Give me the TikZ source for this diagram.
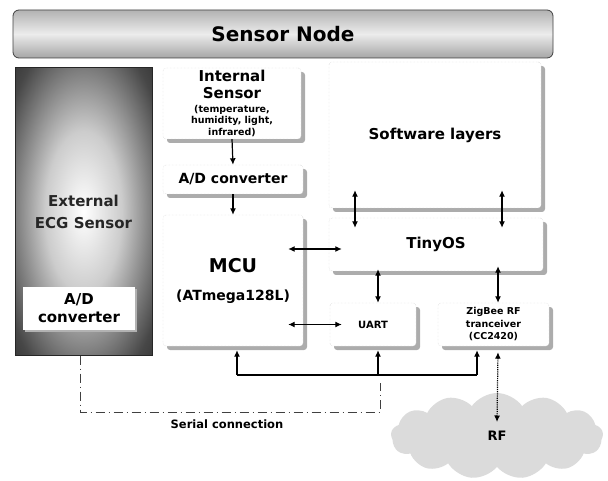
\documentclass[tikz,border=0pt]{standalone}
\usepackage{fontspec}
\setmainfont{DejaVu Sans}
\usetikzlibrary{arrows.meta,positioning,shapes.symbols,shadows}
\pgfdeclareradialshading{ecgglow}{\pgfpoint{0bp}{0bp}}{color(0bp)=(white); color(14bp)=(gray!40); color(32bp)=(black!72); color(44bp)=(black!88); color(50bp)=(black!92)}
\newcommand{\smalltxt}{\fontsize{9.5}{11}\selectfont}
\tikzset{
  blk/.style={fill=white, draw=gray!45, densely dotted, rounded corners=3pt, align=center, inner sep=1pt,
    drop shadow={shadow xshift=4pt, shadow yshift=-4pt, fill=gray!65, opacity=1}},
  lnk/.style={line width=1.2pt, -{Latex[length=6.5pt,width=6pt]}},
  dlnk/.style={line width=1.2pt, {Latex[length=6.5pt,width=6pt]}-{Latex[length=6.5pt,width=6pt]}},
  serial/.style={gray!50!black, line width=0.8pt, dash pattern=on 9pt off 4pt on 1pt off 4pt},
}

\begin{document}
\begin{tikzpicture}[x=1pt,y=-1pt]
  \useasboundingbox (0,0) rectangle (608,481);
  % header bar
  \node[rounded corners=6pt,draw=gray!50!black,line width=0.8pt,top color=gray!60,bottom color=gray!70,middle color=gray!15,minimum width=540pt,minimum height=48pt,font=\bfseries\fontsize{20}{22}\selectfont] (title) at (283,34) {Sensor Node};
  % external sensor
  \node[draw=black!85,line width=1pt,shading=ecgglow,minimum width=137pt,minimum height=287pt,align=center,text=black!85,font=\bfseries\fontsize{15}{22}\selectfont] (ecg) at (83.5,211.5) {External\\ECG Sensor};
  \node[fill=white,minimum width=112pt,minimum height=43pt,align=center,inner sep=1pt,font=\bfseries\fontsize{15}{18}\selectfont,drop shadow={shadow xshift=2pt,shadow yshift=-2pt,fill=gray!60,opacity=1}] (ecgad) at (79,308.5) {A/D\\converter};
  % hardware column
  \node[blk,minimum width=138pt,minimum height=71pt,font=\bfseries\fontsize{15}{17}\selectfont] (insens) at (232,103.5) {Internal\\Sensor\\[-3pt]\smalltxt (temperature,\\[-5.5pt]\smalltxt humidity, light,\\[-5pt]\smalltxt infrared)};
  \node[blk,minimum width=140pt,minimum height=29pt,font=\bfseries\fontsize{14}{16}\selectfont] (adc) at (233,179.5) {A/D converter};
  \node[blk,minimum width=140pt,minimum height=131pt,font=\bfseries\fontsize{19}{28}\selectfont] (mcu) at (233,280.5) {MCU\\\fontsize{14}{16}\selectfont(ATmega128L)};
  % software column
  \node[blk,minimum width=212pt,minimum height=146pt,font=\bfseries\fontsize{15}{17}\selectfont] (soft) at (435,135) {Software layers};
  \node[blk,minimum width=214pt,minimum height=53pt,font=\bfseries\fontsize{15}{17}\selectfont] (tinyos) at (436,244.5) {TinyOS};
  \node[blk,minimum width=86pt,minimum height=43pt,font=\bfseries\fontsize{10}{12}\selectfont] (uart) at (373,324.5) {UART};
  \node[blk,minimum width=111pt,minimum height=43pt,font=\bfseries\fontsize{9.5}{12.5}\selectfont] (zigbee) at (493.5,324.5) {ZigBee RF\\tranceiver\\(CC2420)};
  % radio
  \node[cloud,cloud puffs=13,cloud puff arc=110,aspect=2.4,fill=gray!28,minimum width=212pt,minimum height=86pt,inner sep=0pt,font=\bfseries\fontsize{13}{15}\selectfont] (rf) at (497,436) {RF};
  \node[font=\bfseries\fontsize{11.5}{13}\selectfont] (serlabel) at (227,424) {Serial connection};

  \draw[lnk] (insens.south) -- (adc.north);
  \draw[lnk] (adc.south) -- (mcu.north);
  \draw[dlnk] ([xshift=-15pt,yshift=-4.5pt]mcu.east |- tinyos.west) -- ([xshift=13pt,yshift=-4.5pt]tinyos.west);
  \draw[dlnk] ([xshift=-15pt]mcu.east |- uart.west) -- ([xshift=12pt]uart.west);
  \draw[dlnk] ([xshift=-80pt,yshift=18pt]soft.south) -- ([xshift=-81pt,yshift=-10pt]tinyos.north);
  \draw[dlnk] ([xshift=67pt,yshift=18pt]soft.south) -- ([xshift=66pt,yshift=-10pt]tinyos.north);
  \draw[dlnk] ([xshift=5pt,yshift=2pt]uart.north |- tinyos.south) -- ([xshift=5pt]uart.north);
  \draw[dlnk] ([xshift=4.5pt,yshift=5pt]zigbee.north |- tinyos.south) -- ([xshift=4.5pt]zigbee.north);
  % bus below the boards
  \coordinate (busl) at (237,375);
  \coordinate (busr) at (477,375);
  \draw[line width=1.2pt] (busl) -- (busr);
  \draw[lnk] (busl) -- ([yshift=-4pt]busl |- mcu.south);
  \draw[lnk] (busr) -- ([yshift=-4pt]busr |- zigbee.south);
  \draw[lnk] ([xshift=5pt]uart.south |- busl) -- ([xshift=5pt,yshift=-4pt]uart.south);
  \draw[dlnk,densely dotted] ([xshift=4.5pt,yshift=-6pt]zigbee.south) -- ([yshift=14pt]rf.center);
  % serial link
  \coordinate (sercorner) at (380,412);
  \coordinate (sertip) at (380,383);
  \draw[serial] ([xshift=-3.5pt]ecg.south) |- (sercorner) -- (sertip);
\end{tikzpicture}
\end{document}
